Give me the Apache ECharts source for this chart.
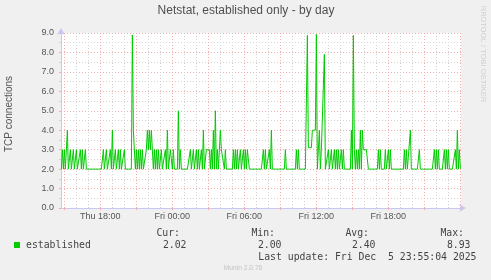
<!DOCTYPE html>
<html><head><meta charset="utf-8">
<script src="https://cdn.jsdelivr.net/npm/echarts@6/dist/echarts.min.js"></script>
<style>html,body{margin:0;padding:0;background:#f0f0f0;}#c{width:491px;height:280px;}</style>
</head><body><div id="c"></div>
<script>
// 5-minute samples, starting Thu ~14:45
const established = [
  2,3,2,3,2,2,4,2,2,3,2,2,3,2,2,3,2,2,2,3,
  2,3,2,2,3,2,2,2,2,2,2,2,2,2,2,2,2,2,2,2,
  2,2,3,2,2,3,2,2,2,3,2,4,2,2,3,2,2,3,2,3,
  2,2,2,3,2,2,2,2,2,2,2,8.9,4,4,2,3,2,3,2,3,
  2,3,2,2,2,3,4,3,4,3,4,3,2,3,2,3,2,3,2,2,
  3,2,2,2,3,2,4,2,2,3,3,2,3,2,2,2,2,5,2,3,
  2,2,2,2,2,2,2,2,2,3,2,2,3,2,2,3,2,3,2,2,
  3,2,4,2,2,3,3,3,3,2,3,2,4,2,5,2,3,2,2,4,
  3,3,3,2,3,2,2,2,2,2,2,2,3,2,3,2,3,2,2,3,
  2,2,3,2,3,2,3,3,2,2,2,2,2,2,2,2,2,2,2,2,
  2,2,3,2,3,2,2,2,3,2,4,2,2,2,2,2,2,2,2,2,
  2,2,2,2,3,2,2,2,2,2,2,2,2,2,2,3,2,3,2,2,
  2,2,2,2,2,2,8.88,3.1,3.1,3.1,3.1,4,4,4,4,8.93,2,2,4,2,
  3,3,3,7.9,2,2,2,3,2,2,3,2,2,3,2,3,2,3,2,2,
  3,2,3,2,2,2,2,2,2,2,4,2,8.88,3,2,3,2,3,2,4,
  2,4,3,3,3,3,3,2,2,2,2,2,2,2,2,2,2,3,2,3,
  2,2,2,2,3,2,2,3,2,3,2,2,2,2,2,2,2,2,2,2,
  2,2,2,3,2,3,2,2,2,4,2,2,2,2,2,2,2,2,3,2,
  2,2,2,2,2,2,2,2,2,2,2,2,2,3,2,3,2,3,2,2,
  2,2,2,3,2,3,2,3,2,2,2,2,2,2,3,2,4,2,3,2.02
];
const startHour = 14.75;          // hours since Thu 00:00
const stepHours = 5 / 60;
const axisMinHour = 14.72;
const axisMaxHour = 14.72 + 400 / 12;
const tickHours = [18, 24, 30, 36, 42];
const tickLabels = ['Thu 18:00', 'Fri 00:00', 'Fri 06:00', 'Fri 12:00', 'Fri 18:00'];
const majorGridHours = [15, 18, 21, 24, 27, 30, 33, 36, 39, 42, 45, 48];
const minorGridHours = [16, 17, 19, 20, 22, 23, 25, 26, 28, 29, 31, 32, 34, 35, 37, 38, 40, 41, 43, 44, 46, 47];
const statLabels = ['Cur:', 'Min:', 'Avg:', 'Max:'];
const statValues = ['2.02', '2.00', '2.40', '8.93'];
const seriesName = 'established';
const titleText = 'Netstat, established only - by day';
const yAxisTitle = 'TCP connections';
const lastUpdate = 'Last update: Fri Dec  5 23:55:04 2025';

const GREEN = '#00cc00';
const RED_GRID = '#f4acac';
const GREY_GRID = '#d2d2d2';
const AXIS = '#c8c8f4';

const pairs = established.map((v, i) => [startHour + i * stepHours, v]);

const gridMarks = [];
minorGridHours.forEach(h => gridMarks.push({ xAxis: h, lineStyle: { color: GREY_GRID, type: [1, 2], width: 1 } }));
majorGridHours.forEach(h => gridMarks.push({ xAxis: h, lineStyle: { color: RED_GRID, type: [1, 2], width: 1 } }));

const statX = [180, 275, 369, 464];
const graphics = [
  { type: 'text', x: 246, y: 11, style: { text: titleText, font: '12px "Liberation Sans"', fill: '#505050', align: 'center', verticalAlign: 'middle' } },
  { type: 'text', x: 9.5, y: 114, rotation: Math.PI / 2, style: { text: yAxisTitle, font: '10px "Liberation Sans"', fill: '#555', align: 'center', verticalAlign: 'middle' } },
  { type: 'text', x: 483, y: 54, rotation: -Math.PI / 2, style: { text: 'RRDTOOL / TOBI OETIKER', font: '7.6px "Liberation Sans"', fill: '#cfcfcf', align: 'center', verticalAlign: 'middle' } },
  { type: 'rect', shape: { x: 14, y: 242, width: 6, height: 6 }, style: { fill: GREEN } },
  { type: 'text', x: 26, y: 245, style: { text: seriesName, font: '9.8px "DejaVu Sans Mono"', fill: '#444', align: 'left', verticalAlign: 'middle' } },
  { type: 'text', x: 476.5, y: 257, style: { text: lastUpdate, font: '9.8px "DejaVu Sans Mono"', fill: '#444', align: 'right', verticalAlign: 'middle' } },
  { type: 'text', x: 243, y: 268, style: { text: 'Munin 2.0.76', font: '6.7px "Liberation Sans"', fill: '#c4c4c4', align: 'center', verticalAlign: 'middle' } }
];
statLabels.forEach((t, k) => {
  graphics.push({ type: 'text', x: statX[k], y: 233, style: { text: t, font: '9.8px "DejaVu Sans Mono"', fill: '#444', align: 'right', verticalAlign: 'middle' } });
  graphics.push({ type: 'text', x: statX[k] + 6.5, y: 245, style: { text: statValues[k], font: '9.8px "DejaVu Sans Mono"', fill: '#444', align: 'right', verticalAlign: 'middle' } });
});

const chart = echarts.init(document.getElementById('c'), null, { renderer: 'canvas' });
chart.setOption({
  animation: false,
  backgroundColor: '#f0f0f0',
  grid: { left: 61, top: 33, width: 400, height: 175, show: true, backgroundColor: '#ffffff', borderWidth: 0 },
  xAxis: {
    type: 'value', min: axisMinHour, max: axisMaxHour,
    splitLine: { show: false },
    axisLine: { lineStyle: { color: AXIS, width: 1 }, symbol: ['none', 'arrow'], symbolSize: [6, 7], symbolOffset: [0, 5] },
    axisTick: { show: true, length: 2, customValues: majorGridHours, lineStyle: { color: RED_GRID } },
    axisLabel: {
      customValues: tickHours, margin: 4, color: '#555', fontFamily: 'Liberation Sans', fontSize: 9,
      formatter: v => { const k = tickHours.indexOf(Math.round(v)); return k >= 0 ? tickLabels[k] : ''; }
    }
  },
  yAxis: {
    type: 'value', min: 0, max: 9, interval: 1,
    axisLine: { show: true, lineStyle: { color: AXIS, width: 1 }, symbol: ['none', 'arrow'], symbolSize: [6, 7], symbolOffset: [0, 5] },
    axisTick: { show: true, length: 2, lineStyle: { color: RED_GRID } },
    minorTick: { show: true, splitNumber: 2, length: 2, lineStyle: { color: GREY_GRID } },
    splitLine: { show: true, lineStyle: { color: RED_GRID, type: [1, 2], width: 1 } },
    minorSplitLine: { show: true, lineStyle: { color: GREY_GRID, type: [1, 2], width: 1 } },
    axisLabel: { margin: 7, color: '#555', fontFamily: 'Liberation Sans', fontSize: 9, formatter: v => v.toFixed(1) }
  },
  series: [
    { type: 'line', data: [], z: 1, silent: true,
      markLine: { silent: true, symbol: ['none', 'none'], label: { show: false }, animation: false, data: gridMarks } },
    { name: seriesName, type: 'line', data: pairs, z: 5, showSymbol: false, symbol: 'none', sampling: null,
      lineStyle: { color: GREEN, width: 1 }, itemStyle: { color: GREEN } }
  ],
  graphic: graphics
});
</script></body></html>
